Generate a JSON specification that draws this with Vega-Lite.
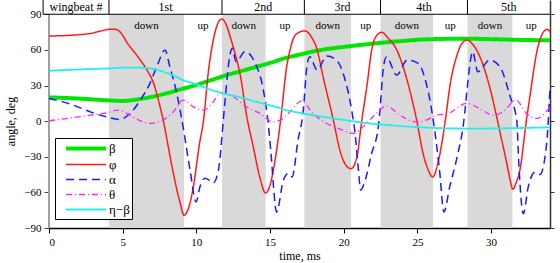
{
  "$schema": "https://vega.github.io/schema/vega-lite/v6.json",
  "width": 501,
  "height": 228,
  "autosize": {"type": "none"},
  "padding": {"left": 49, "top": 0, "right": 10, "bottom": 35},
  "background": "white",
  "config": {
    "view": {"stroke": null},
    "font": "Liberation Serif",
    "axis": {"grid": false, "labelFont": "Liberation Serif", "titleFont": "Liberation Serif", "labelFontSize": 11, "titleFontSize": 12, "titleFontWeight": "normal", "labelColor": "black", "titleColor": "black", "tickColor": "black"},
    "legend": {"title": null, "orient": "none", "legendX": 6, "legendY": 138, "strokeColor": "black", "fillColor": "white", "padding": 2, "symbolType": "M0.08,0H6.23", "symbolSize": 169, "labelFontSize": 13, "labelFont": "Liberation Serif", "labelColor": "black", "rowPadding": 0, "labelOffset": 35}
  },
  "data": {"values": [{"frame": "axis"}]},
  "datasets": {
    "header": [
      {"label": "wingbeat #", "start": -0.4, "end": 4.07},
      {"label": "1st", "start": 4.07, "end": 11.74},
      {"label": "2nd", "start": 11.74, "end": 17.33},
      {"label": "3rd", "start": 17.33, "end": 22.5},
      {"label": "4th", "start": 22.5, "end": 28.4},
      {"label": "5th", "start": 28.4, "end": 34}
    ],
    "phases": [
      {"phase": "down", "start": 4.07, "end": 9.16},
      {"phase": "up", "start": 9.16, "end": 11.74},
      {"phase": "down", "start": 11.74, "end": 14.7},
      {"phase": "up", "start": 14.7, "end": 17.33},
      {"phase": "down", "start": 17.33, "end": 20.5},
      {"phase": "up", "start": 20.5, "end": 22.5},
      {"phase": "down", "start": 22.5, "end": 26.07},
      {"phase": "up", "start": 26.07, "end": 28.4},
      {"phase": "down", "start": 28.4, "end": 31.45},
      {"phase": "up", "start": 31.45, "end": 34}
    ],
    "curves": [
      {"s": "β", "t": 0, "v": 20}, {"s": "β", "t": 2, "v": 19}, {"s": "β", "t": 4, "v": 17.5}, {"s": "β", "t": 5, "v": 17}, {"s": "β", "t": 6, "v": 18.3}, {"s": "β", "t": 7, "v": 20.5}, {"s": "β", "t": 8, "v": 23.5}, {"s": "β", "t": 9, "v": 27}, {"s": "β", "t": 10, "v": 30.5}, {"s": "β", "t": 11, "v": 34.5}, {"s": "β", "t": 12, "v": 38.5}, {"s": "β", "t": 13, "v": 42}, {"s": "β", "t": 14, "v": 45.5}, {"s": "β", "t": 15, "v": 49}, {"s": "β", "t": 16, "v": 53}, {"s": "β", "t": 17, "v": 56}, {"s": "β", "t": 18, "v": 58.8}, {"s": "β", "t": 19, "v": 61}, {"s": "β", "t": 20, "v": 62.5}, {"s": "β", "t": 21, "v": 64}, {"s": "β", "t": 22, "v": 65.3}, {"s": "β", "t": 23, "v": 66.5}, {"s": "β", "t": 24, "v": 67.5}, {"s": "β", "t": 25, "v": 68.5}, {"s": "β", "t": 26, "v": 69}, {"s": "β", "t": 27, "v": 69.3}, {"s": "β", "t": 28, "v": 69.4}, {"s": "β", "t": 29, "v": 69.3}, {"s": "β", "t": 30, "v": 69}, {"s": "β", "t": 31, "v": 68.7}, {"s": "β", "t": 32, "v": 68.4}, {"s": "β", "t": 33, "v": 68.2}, {"s": "β", "t": 34, "v": 68},

      {"s": "φ", "t": 0, "v": 71.7}, {"s": "φ", "t": 1, "v": 72}, {"s": "φ", "t": 2, "v": 72.8}, {"s": "φ", "t": 2.8, "v": 73.8}, {"s": "φ", "t": 3.5, "v": 75.8}, {"s": "φ", "t": 4.1, "v": 77.3}, {"s": "φ", "t": 4.5, "v": 77.3}, {"s": "φ", "t": 4.9, "v": 74}, {"s": "φ", "t": 5.3, "v": 66}, {"s": "φ", "t": 5.8, "v": 58}, {"s": "φ", "t": 6.2, "v": 51.4}, {"s": "φ", "t": 6.7, "v": 42}, {"s": "φ", "t": 7.1, "v": 31.8}, {"s": "φ", "t": 7.5, "v": 14}, {"s": "φ", "t": 7.8, "v": -2}, {"s": "φ", "t": 8.1, "v": -22}, {"s": "φ", "t": 8.44, "v": -44}, {"s": "φ", "t": 8.9, "v": -69}, {"s": "φ", "t": 9.16, "v": -79.3}, {"s": "φ", "t": 9.45, "v": -74}, {"s": "φ", "t": 9.8, "v": -55}, {"s": "φ", "t": 10.2, "v": -20}, {"s": "φ", "t": 10.5, "v": 2}, {"s": "φ", "t": 10.8, "v": 40}, {"s": "φ", "t": 11.15, "v": 68.3}, {"s": "φ", "t": 11.45, "v": 82}, {"s": "φ", "t": 11.72, "v": 86}, {"s": "φ", "t": 12.0, "v": 82}, {"s": "φ", "t": 12.3, "v": 71}, {"s": "φ", "t": 12.6, "v": 58}, {"s": "φ", "t": 12.96, "v": 40}, {"s": "φ", "t": 13.45, "v": 2}, {"s": "φ", "t": 13.87, "v": -22}, {"s": "φ", "t": 14.3, "v": -47}, {"s": "φ", "t": 14.7, "v": -60.5}, {"s": "φ", "t": 15.0, "v": -54}, {"s": "φ", "t": 15.3, "v": -36}, {"s": "φ", "t": 15.72, "v": 0.8}, {"s": "φ", "t": 16.13, "v": 45.8}, {"s": "φ", "t": 16.36, "v": 60}, {"s": "φ", "t": 16.6, "v": 70}, {"s": "φ", "t": 17.0, "v": 75}, {"s": "φ", "t": 17.37, "v": 76}, {"s": "φ", "t": 17.8, "v": 71}, {"s": "φ", "t": 18.2, "v": 60}, {"s": "φ", "t": 18.6, "v": 37.4}, {"s": "φ", "t": 19.3, "v": 0.8}, {"s": "φ", "t": 19.75, "v": -25}, {"s": "φ", "t": 20.2, "v": -38}, {"s": "φ", "t": 20.5, "v": -40}, {"s": "φ", "t": 20.9, "v": -30}, {"s": "φ", "t": 21.2, "v": -2}, {"s": "φ", "t": 21.6, "v": 31.8}, {"s": "φ", "t": 21.9, "v": 60}, {"s": "φ", "t": 22.3, "v": 73}, {"s": "φ", "t": 22.6, "v": 74.8}, {"s": "φ", "t": 23.0, "v": 70}, {"s": "φ", "t": 23.6, "v": 60}, {"s": "φ", "t": 24.3, "v": 34.6}, {"s": "φ", "t": 24.95, "v": 0.8}, {"s": "φ", "t": 25.4, "v": -28}, {"s": "φ", "t": 25.7, "v": -40}, {"s": "φ", "t": 26.04, "v": -47}, {"s": "φ", "t": 26.4, "v": -35}, {"s": "φ", "t": 26.9, "v": 0.8}, {"s": "φ", "t": 27.2, "v": 29}, {"s": "φ", "t": 27.7, "v": 56}, {"s": "φ", "t": 28.0, "v": 65}, {"s": "φ", "t": 28.35, "v": 68.3}, {"s": "φ", "t": 28.8, "v": 64}, {"s": "φ", "t": 29.25, "v": 54}, {"s": "φ", "t": 29.9, "v": 29}, {"s": "φ", "t": 30.43, "v": 0.8}, {"s": "φ", "t": 30.6, "v": -9}, {"s": "φ", "t": 31.06, "v": -35}, {"s": "φ", "t": 31.3, "v": -50}, {"s": "φ", "t": 31.47, "v": -57.4}, {"s": "φ", "t": 31.7, "v": -52}, {"s": "φ", "t": 31.96, "v": -41}, {"s": "φ", "t": 32.4, "v": 0.8}, {"s": "φ", "t": 32.6, "v": 17.7}, {"s": "φ", "t": 33.1, "v": 58}, {"s": "φ", "t": 33.5, "v": 74}, {"s": "φ", "t": 33.8, "v": 77.3}, {"s": "φ", "t": 34, "v": 75},

      {"s": "α", "t": 0, "v": 19}, {"s": "α", "t": 1.65, "v": 13.5}, {"s": "α", "t": 2.8, "v": 7.8}, {"s": "α", "t": 3.9, "v": 3.6}, {"s": "α", "t": 4.8, "v": 1.4}, {"s": "α", "t": 5.5, "v": 6.5}, {"s": "α", "t": 6.2, "v": 17.7}, {"s": "α", "t": 6.85, "v": 31.8}, {"s": "α", "t": 7.4, "v": 48.6}, {"s": "α", "t": 7.87, "v": 60}, {"s": "α", "t": 8.2, "v": 45.8}, {"s": "α", "t": 8.67, "v": 23.4}, {"s": "α", "t": 9.1, "v": -4.8}, {"s": "α", "t": 9.57, "v": -41}, {"s": "α", "t": 9.98, "v": -68}, {"s": "α", "t": 10.25, "v": -55}, {"s": "α", "t": 10.6, "v": -48}, {"s": "α", "t": 10.9, "v": -50}, {"s": "α", "t": 11.15, "v": -52}, {"s": "α", "t": 11.5, "v": -41}, {"s": "α", "t": 11.83, "v": 0.8}, {"s": "α", "t": 11.95, "v": 17.7}, {"s": "α", "t": 12.3, "v": 57}, {"s": "α", "t": 12.44, "v": 61.3}, {"s": "α", "t": 12.7, "v": 50}, {"s": "α", "t": 13.3, "v": 58.5}, {"s": "α", "t": 14.0, "v": 48.6}, {"s": "α", "t": 14.55, "v": 26}, {"s": "α", "t": 14.9, "v": -4.8}, {"s": "α", "t": 15.05, "v": -25}, {"s": "α", "t": 15.45, "v": -76.5}, {"s": "α", "t": 15.9, "v": -50}, {"s": "α", "t": 16.24, "v": -44}, {"s": "α", "t": 16.5, "v": -47}, {"s": "α", "t": 16.9, "v": -16}, {"s": "α", "t": 17.26, "v": 9.3}, {"s": "α", "t": 17.5, "v": 45.8}, {"s": "α", "t": 17.7, "v": 54.2}, {"s": "α", "t": 18.2, "v": 43}, {"s": "α", "t": 18.85, "v": 54.8}, {"s": "α", "t": 19.5, "v": 51.4}, {"s": "α", "t": 20.1, "v": 34.6}, {"s": "α", "t": 20.54, "v": 9.3}, {"s": "α", "t": 20.77, "v": -10}, {"s": "α", "t": 21.0, "v": -41}, {"s": "α", "t": 21.15, "v": -58}, {"s": "α", "t": 21.45, "v": -50}, {"s": "α", "t": 21.9, "v": -27}, {"s": "α", "t": 22.35, "v": -4.8}, {"s": "α", "t": 22.46, "v": 9.3}, {"s": "α", "t": 22.7, "v": 45.8}, {"s": "α", "t": 22.9, "v": 54}, {"s": "α", "t": 23.6, "v": 38.8}, {"s": "α", "t": 24.3, "v": 51.4}, {"s": "α", "t": 25.06, "v": 48.6}, {"s": "α", "t": 25.6, "v": 31.8}, {"s": "α", "t": 25.97, "v": 9.3}, {"s": "α", "t": 26.2, "v": -10}, {"s": "α", "t": 26.5, "v": -41}, {"s": "α", "t": 26.8, "v": -76.5}, {"s": "α", "t": 27.2, "v": -55}, {"s": "α", "t": 27.7, "v": -30}, {"s": "α", "t": 28.15, "v": 0}, {"s": "α", "t": 28.4, "v": 30}, {"s": "α", "t": 28.6, "v": 51}, {"s": "α", "t": 28.75, "v": 58.5}, {"s": "α", "t": 29.1, "v": 41.6}, {"s": "α", "t": 29.9, "v": 51.4}, {"s": "α", "t": 30.6, "v": 45.8}, {"s": "α", "t": 31.3, "v": 20.5}, {"s": "α", "t": 31.74, "v": 0.8}, {"s": "α", "t": 31.9, "v": -40}, {"s": "α", "t": 32.19, "v": -78}, {"s": "α", "t": 32.53, "v": -55}, {"s": "α", "t": 32.98, "v": -43}, {"s": "α", "t": 33.32, "v": -45}, {"s": "α", "t": 33.78, "v": -18}, {"s": "α", "t": 34, "v": 29},

      {"s": "θ", "t": 0, "v": 0.3}, {"s": "θ", "t": 1.65, "v": 3}, {"s": "θ", "t": 2.8, "v": 5}, {"s": "θ", "t": 3.9, "v": 7}, {"s": "θ", "t": 4.7, "v": 9.3}, {"s": "θ", "t": 5.5, "v": 5}, {"s": "θ", "t": 6.2, "v": 0.3}, {"s": "θ", "t": 6.85, "v": -2}, {"s": "θ", "t": 7.76, "v": 1.1}, {"s": "θ", "t": 8.44, "v": 7.8}, {"s": "θ", "t": 9.1, "v": 17.7}, {"s": "θ", "t": 9.8, "v": 12}, {"s": "θ", "t": 10.5, "v": 9.3}, {"s": "θ", "t": 11.15, "v": 16.3}, {"s": "θ", "t": 11.6, "v": 23.4}, {"s": "θ", "t": 12.5, "v": 20.5}, {"s": "θ", "t": 13.4, "v": 12}, {"s": "θ", "t": 14.3, "v": 6.5}, {"s": "θ", "t": 15.2, "v": -0.6}, {"s": "θ", "t": 15.7, "v": 0.8}, {"s": "θ", "t": 16.36, "v": 8}, {"s": "θ", "t": 17.15, "v": 17}, {"s": "θ", "t": 17.9, "v": 6.5}, {"s": "θ", "t": 18.85, "v": -2}, {"s": "θ", "t": 19.8, "v": -7}, {"s": "θ", "t": 20.65, "v": -10.4}, {"s": "θ", "t": 21.3, "v": -4.8}, {"s": "θ", "t": 22.1, "v": 5}, {"s": "θ", "t": 22.9, "v": 12.7}, {"s": "θ", "t": 23.8, "v": 5}, {"s": "θ", "t": 24.95, "v": -0.6}, {"s": "θ", "t": 25.6, "v": 0.8}, {"s": "θ", "t": 26.3, "v": 5}, {"s": "θ", "t": 27.1, "v": 6.5}, {"s": "θ", "t": 28.35, "v": 15}, {"s": "θ", "t": 29.0, "v": 12}, {"s": "θ", "t": 30.2, "v": 5}, {"s": "θ", "t": 30.8, "v": 7.8}, {"s": "θ", "t": 31.7, "v": 17.7}, {"s": "θ", "t": 32.4, "v": 6.5}, {"s": "θ", "t": 33.1, "v": 2.3}, {"s": "θ", "t": 34, "v": 12},

      {"s": "η−β", "t": 0, "v": 42.4}, {"s": "η−β", "t": 2, "v": 43.5}, {"s": "η−β", "t": 4, "v": 44.4}, {"s": "η−β", "t": 5, "v": 45}, {"s": "η−β", "t": 6.2, "v": 45}, {"s": "η−β", "t": 7, "v": 44}, {"s": "η−β", "t": 7.4, "v": 43}, {"s": "η−β", "t": 8, "v": 40.5}, {"s": "η−β", "t": 8.4, "v": 38.8}, {"s": "η−β", "t": 9, "v": 35}, {"s": "η−β", "t": 10, "v": 31}, {"s": "η−β", "t": 10.7, "v": 27.6}, {"s": "η−β", "t": 11.8, "v": 23.4}, {"s": "η−β", "t": 13, "v": 20}, {"s": "η−β", "t": 14, "v": 16.5}, {"s": "η−β", "t": 15.2, "v": 12.7}, {"s": "η−β", "t": 16.4, "v": 8.4}, {"s": "η−β", "t": 17, "v": 7}, {"s": "η−β", "t": 18.6, "v": 3.6}, {"s": "η−β", "t": 20, "v": 1}, {"s": "η−β", "t": 20.9, "v": -0.6}, {"s": "η−β", "t": 22, "v": -2.3}, {"s": "η−β", "t": 23.1, "v": -3.4}, {"s": "η−β", "t": 24, "v": -4.3}, {"s": "η−β", "t": 25.4, "v": -5.3}, {"s": "η−β", "t": 26.5, "v": -5.9}, {"s": "η−β", "t": 27.7, "v": -6.2}, {"s": "η−β", "t": 29, "v": -6.3}, {"s": "η−β", "t": 30, "v": -6.2}, {"s": "η−β", "t": 31, "v": -6}, {"s": "η−β", "t": 32, "v": -5.8}, {"s": "η−β", "t": 33, "v": -5.5}, {"s": "η−β", "t": 34, "v": -5.3}
    ]
  },
  "layer": [
    {
      "data": {"name": "phases"},
      "transform": [{"filter": "datum.phase === 'down'"}],
      "mark": {"type": "rect", "color": "#d9d9d9"},
      "encoding": {
        "x": {"field": "start", "type": "quantitative", "scale": {"domain": [0, 34], "nice": false, "zero": false},
              "axis": {"orient": "bottom", "values": [0, 5, 10, 15, 20, 25, 30], "title": "time, ms", "domainColor": "black", "domainWidth": 1.5, "tickSize": 5, "labelPadding": 3, "titlePadding": 3}},
        "x2": {"field": "end"},
        "y": {"datum": -90, "type": "quantitative", "scale": {"domain": [-90, 102], "nice": false, "zero": false},
              "axis": {"orient": "left", "values": [-90, -60, -30, 0, 30, 60, 90], "title": "angle, deg", "domain": false, "tickSize": 5, "tickColor": "#444", "labelPadding": 3, "titlePadding": 6, "titleY": 121}},
        "y2": {"datum": 90}
      }
    },
    {
      "mark": {"type": "rule", "color": "#a0a0a0", "strokeWidth": 2},
      "encoding": {
        "x": {"datum": 0, "type": "quantitative", "axis": null},
        "y": {"datum": -90, "type": "quantitative",
              "axis": {"orient": "right", "values": [-90, -60, -30, 0, 30, 60, 90], "labels": false, "title": null, "domain": true, "domainColor": "#333", "domainWidth": 1.5, "tickSize": 4, "tickColor": "#333"}},
        "y2": {"datum": 90}
      }
    },
    {
      "data": {"name": "curves"},
      "mark": {"type": "line", "interpolate": "monotone"},
      "encoding": {
        "x": {"field": "t", "type": "quantitative", "axis": null},
        "y": {"field": "v", "type": "quantitative", "axis": null},
        "color": {"field": "s", "type": "nominal",
                  "scale": {"domain": ["β", "φ", "α", "θ", "η−β"], "range": ["#00e600", "#ff1a1a", "#1a1aff", "#ff22ff", "#22eeee"]}},
        "strokeDash": {"field": "s", "type": "nominal",
                       "scale": {"domain": ["β", "φ", "α", "θ", "η−β"], "range": [[1, 0], [1, 0], [8, 5], [6, 3, 1, 3], [1, 0]]}},
        "strokeWidth": {"field": "s", "type": "nominal",
                        "scale": {"type": "ordinal", "domain": ["β", "φ", "α", "θ", "η−β"], "range": [4, 1.5, 1.5, 1.3, 1.8]}}
      }
    },
    {
      "data": {"name": "phases"},
      "transform": [{"calculate": "(datum.start + datum.end) / 2", "as": "mid"}],
      "mark": {"type": "text", "font": "Liberation Serif", "fontSize": 11, "color": "black", "baseline": "middle"},
      "encoding": {
        "x": {"field": "mid", "type": "quantitative", "axis": null},
        "y": {"datum": 80, "type": "quantitative", "axis": null},
        "text": {"field": "phase"}
      }
    },
    {
      "data": {"name": "header"},
      "mark": {"type": "rule", "color": "black", "strokeWidth": 1},
      "encoding": {
        "x": {"field": "start", "type": "quantitative", "axis": null},
        "y": {"datum": 90, "type": "quantitative", "axis": null},
        "y2": {"datum": 102}
      }
    },
    {
      "data": {"name": "header"},
      "mark": {"type": "rule", "color": "black", "strokeWidth": 1},
      "encoding": {
        "x": {"field": "start", "type": "quantitative", "axis": null},
        "x2": {"field": "end"},
        "y": {"datum": 90, "type": "quantitative", "axis": null}
      }
    },
    {
      "data": {"name": "header"},
      "transform": [{"calculate": "(datum.start + datum.end) / 2", "as": "mid"}],
      "mark": {"type": "text", "font": "Liberation Serif", "fontSize": 12, "color": "black", "baseline": "middle"},
      "encoding": {
        "x": {"field": "mid", "type": "quantitative", "axis": null},
        "y": {"datum": 96, "type": "quantitative", "axis": null},
        "text": {"field": "label"}
      }
    }
  ],
  "resolve": {"axis": {"y": "independent", "x": "independent"}}
}
